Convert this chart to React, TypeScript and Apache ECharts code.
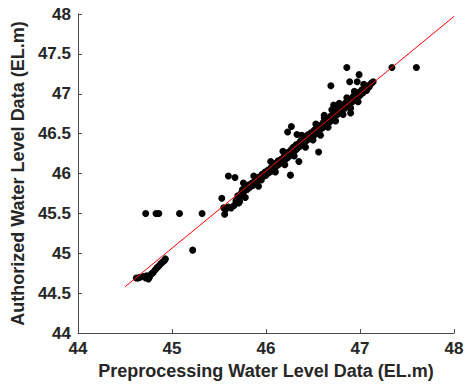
import React, { useEffect, useRef } from "react";
import * as echarts from "echarts";

const xTicks = [44, 45, 46, 47, 48];
const yTicks = [44, 44.5, 45, 45.5, 46, 46.5, 47, 47.5, 48];

const lowCluster: number[][] = [
  [44.62, 44.69], [44.64, 44.69], [44.66, 44.70], [44.70, 44.71], [44.72, 44.69],
  [44.73, 44.72], [44.75, 44.68], [44.76, 44.70], [44.78, 44.74], [44.79, 44.75],
  [44.80, 44.76], [44.82, 44.79], [44.84, 44.82], [44.86, 44.84], [44.88, 44.87],
  [44.90, 44.89], [44.92, 44.91], [44.93, 44.93],
];

const rowPoints: number[][] = [
  [44.72, 45.5], [44.83, 45.5], [44.86, 45.5], [45.08, 45.5], [45.32, 45.5], [45.22, 45.04],
];

const band: number[][] = [
  [45.57, 45.55], [45.60, 45.58], [45.63, 45.57], [45.66, 45.60], [45.68, 45.66],
  [45.70, 45.72], [45.72, 45.70], [45.74, 45.76], [45.75, 45.80], [45.77, 45.78],
  [45.79, 45.84], [45.80, 45.80], [45.82, 45.86], [45.83, 45.83], [45.85, 45.88],
  [45.86, 45.85], [45.88, 45.90], [45.89, 45.94], [45.90, 45.88], [45.92, 45.93],
  [45.93, 45.96], [45.95, 45.92], [45.96, 45.99], [45.98, 45.97], [45.99, 46.02],
  [46.00, 45.98], [46.02, 46.04], [46.03, 46.01], [46.05, 46.07], [46.06, 46.03],
  [46.08, 46.10], [46.09, 46.06], [46.10, 46.13], [46.12, 46.10], [46.13, 46.16],
  [46.14, 46.12], [46.16, 46.18], [46.17, 46.14], [46.19, 46.21], [46.20, 46.17],
  [46.21, 46.24], [46.23, 46.20], [46.24, 46.27], [46.25, 46.22], [46.27, 46.30],
  [46.28, 46.26], [46.29, 46.33], [46.31, 46.29], [46.32, 46.36], [46.33, 46.31],
  [46.35, 46.38], [46.36, 46.34], [46.37, 46.41], [46.39, 46.37], [46.40, 46.44],
  [46.41, 46.39], [46.43, 46.46], [46.44, 46.42], [46.45, 46.49], [46.47, 46.44],
  [46.48, 46.51], [46.49, 46.47], [46.51, 46.54], [46.52, 46.49], [46.53, 46.56],
  [46.55, 46.52], [46.56, 46.59], [46.57, 46.54], [46.59, 46.61], [46.60, 46.57],
  [46.61, 46.64], [46.63, 46.60], [46.64, 46.67], [46.65, 46.62], [46.67, 46.69],
  [46.68, 46.65], [46.69, 46.72], [46.71, 46.68], [46.72, 46.75], [46.73, 46.70],
  [46.75, 46.78], [46.76, 46.74], [46.77, 46.81], [46.79, 46.77], [46.80, 46.84],
  [46.81, 46.79], [46.83, 46.86], [46.84, 46.82], [46.85, 46.89], [46.87, 46.85],
  [46.88, 46.91], [46.89, 46.87], [46.91, 46.94], [46.92, 46.90], [46.93, 46.97],
  [46.95, 46.93], [46.96, 46.99], [46.97, 46.95], [46.99, 47.02], [47.00, 46.98],
  [47.02, 47.05], [47.03, 47.01], [47.05, 47.07], [47.07, 47.04], [47.08, 47.10],
  [47.10, 47.09], [47.12, 47.13], [47.14, 47.15],
  [45.72, 45.65], [45.78, 45.70], [45.92, 45.84], [46.05, 46.15], [46.10, 46.02],
  [46.18, 46.28], [46.30, 46.22], [46.38, 46.48], [46.42, 46.33], [46.50, 46.42],
  [46.53, 46.62], [46.58, 46.48], [46.62, 46.70], [46.66, 46.58], [46.70, 46.80],
  [46.74, 46.66], [46.78, 46.88], [46.82, 46.74], [46.86, 46.95], [46.90, 46.82],
  [46.94, 47.03], [46.98, 46.90], [47.04, 47.12], [46.62, 46.73], [46.20, 46.11],
];

const outliers: number[][] = [
  [45.60, 45.97], [45.67, 45.95], [45.53, 45.69], [45.56, 45.49], [45.55, 45.57],
  [45.71, 45.63], [45.76, 45.88], [45.87, 45.97], [46.26, 45.98], [46.35, 46.15],
  [46.56, 46.27], [46.27, 46.59], [46.23, 46.52], [46.33, 46.49], [46.43, 46.47],
  [46.86, 47.33], [46.69, 47.10], [46.99, 47.24], [46.89, 47.15], [46.97, 47.15],
  [47.34, 47.33], [47.60, 47.33], [46.90, 46.76], [46.72, 46.86],
];

const fitLine: number[][] = [[44.5, 44.58], [48, 47.97]];

const FONT = "'Liberation Sans', Arial, sans-serif";
const AXIS_COLOR = "#4a4a4a";
const TEXT_COLOR = "#262626";

export default function App() {
  const ref = useRef<HTMLDivElement>(null);
  useEffect(() => {
    if (!ref.current) return;
    const chart = echarts.init(ref.current, undefined, { renderer: "svg" });
    const points = [...lowCluster, ...rowPoints, ...band, ...outliers];
    chart.setOption({
      animation: false,
      backgroundColor: "#ffffff",
      textStyle: { fontFamily: FONT },
      grid: { left: 78, right: 15, top: 14, bottom: 51, containLabel: false },
      xAxis: {
        type: "value",
        min: xTicks[0],
        max: xTicks[xTicks.length - 1],
        interval: 1,
        name: "Preprocessing Water Level Data (EL.m)",
        nameLocation: "middle",
        nameGap: 25,
        nameTextStyle: { fontFamily: FONT, fontWeight: "bold", fontSize: 18, color: TEXT_COLOR },
        axisLine: { show: true, onZero: false, lineStyle: { color: AXIS_COLOR, width: 1 } },
        axisTick: { show: true, inside: true, length: 4, lineStyle: { color: AXIS_COLOR } },
        axisLabel: { fontFamily: FONT, fontWeight: "bold", fontSize: 17, color: TEXT_COLOR, margin: 7 },
        splitLine: { show: false },
      },
      yAxis: {
        type: "value",
        min: yTicks[0],
        max: yTicks[yTicks.length - 1],
        interval: 0.5,
        name: "Authorized Water Level Data (EL.m)",
        nameLocation: "middle",
        nameGap: 43,
        nameTextStyle: { fontFamily: FONT, fontWeight: "bold", fontSize: 18, color: TEXT_COLOR },
        axisLine: { show: true, onZero: false, lineStyle: { color: AXIS_COLOR, width: 1 } },
        axisTick: { show: true, inside: true, length: 4, lineStyle: { color: AXIS_COLOR } },
        axisLabel: { fontFamily: FONT, fontWeight: "bold", fontSize: 17, color: TEXT_COLOR, margin: 7 },
        splitLine: { show: false },
      },
      series: [
        {
          type: "scatter",
          data: points,
          symbol: "circle",
          symbolSize: 7,
          itemStyle: { color: "#000000", opacity: 1 },
          z: 2,
        },
        {
          type: "line",
          data: fitLine,
          showSymbol: false,
          symbol: "none",
          lineStyle: { color: "#ff0000", width: 1 },
          z: 3,
        },
      ],
    });
    return () => chart.dispose();
  }, []);
  return (
    <div
      ref={ref}
      style={{ position: "fixed", left: 0, top: 0, width: 469, height: 385, background: "#fff" }}
    />
  );
}
